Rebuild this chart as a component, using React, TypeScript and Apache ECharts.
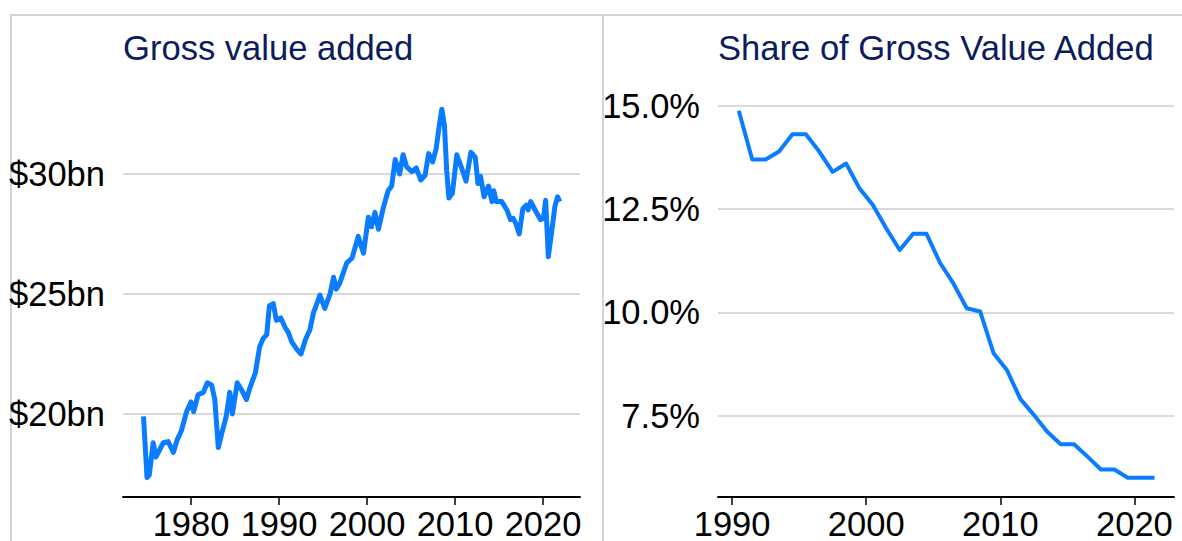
import React, { useEffect, useRef } from "react";
import * as echarts from "echarts";

// Left panel: Gross value added ($bn), quarterly readings (decimal year)
const gvaYears = [
  1974.6, 1975.0, 1975.25, 1975.7, 1976.0, 1976.85, 1977.4, 1978.0, 1978.4, 1978.9,
  1979.5, 1980.0, 1980.3, 1980.8, 1981.4, 1981.85, 1982.35, 1982.7, 1983.1, 1983.5,
  1984.0, 1984.4, 1984.7, 1985.25, 1985.75, 1986.3, 1986.7, 1987.3, 1987.8, 1988.2,
  1988.6, 1988.9, 1989.35, 1989.7, 1990.2, 1990.7, 1991.05, 1991.45, 1992.0, 1992.5,
  1993.0, 1993.5, 1993.9, 1994.65, 1995.2, 1995.8, 1996.2, 1996.5, 1996.9, 1997.7,
  1998.3, 1999.0, 1999.6, 2000.15, 2000.5, 2000.9, 2001.3, 2001.85, 2002.4, 2002.8,
  2003.2, 2003.7, 2004.1, 2004.5, 2005.1, 2005.6, 2006.1, 2006.6, 2007.0, 2007.45,
  2007.85, 2008.2, 2008.5, 2008.8, 2009.05, 2009.3, 2009.7, 2010.2, 2010.75, 2011.25,
  2011.8, 2012.3, 2012.6, 2012.9, 2013.3, 2013.8, 2014.2, 2014.4, 2014.7, 2015.3,
  2015.9, 2016.3, 2016.6, 2016.9, 2017.3, 2017.7, 2018.1, 2018.3, 2018.6, 2019.1,
  2019.7, 2020.05, 2020.3, 2020.6, 2021.0, 2021.35, 2021.65, 2021.9,
];
const gvaValues = [
  19.9, 17.35, 17.45, 18.8, 18.2, 18.8, 18.85, 18.4, 18.9, 19.3,
  20.1, 20.5, 20.1, 20.8, 20.9, 21.3, 21.2, 20.6, 18.6, 19.2,
  19.9, 20.9, 20.0, 21.3, 21.0, 20.6, 21.1, 21.7, 22.8, 23.15,
  23.3, 24.5, 24.6, 23.9, 24.0, 23.6, 23.4, 23.0, 22.7, 22.5,
  23.1, 23.5, 24.2, 24.95, 24.4, 25.0, 25.7, 25.2, 25.45, 26.3,
  26.5, 27.4, 26.7, 28.2, 27.8, 28.4, 27.7, 28.6, 29.3, 29.5,
  30.6, 30.0, 30.8, 30.3, 30.1, 30.25, 29.75, 29.95, 30.85, 30.5,
  31.05, 32.0, 32.7, 32.0, 30.15, 29.0, 29.2, 30.8, 30.25, 29.7,
  30.9, 30.7, 29.6, 29.9, 29.05, 29.5, 28.85, 29.3, 28.85, 28.85,
  28.5, 28.1, 28.15, 27.95, 27.5, 28.55, 28.7, 28.5, 28.85, 28.5,
  28.1, 28.15, 28.9, 26.55, 27.65, 28.65, 29.05, 28.85,
];

// Right panel: share of gross value added (%), annual readings (mid-year)
const shareYears = [
  1990.5, 1991.5, 1992.5, 1993.5, 1994.5, 1995.5, 1996.5, 1997.5, 1998.5, 1999.5,
  2000.5, 2001.5, 2002.5, 2003.5, 2004.5, 2005.5, 2006.5, 2007.5, 2008.5, 2009.5,
  2010.5, 2011.5, 2012.5, 2013.5, 2014.5, 2015.5, 2016.5, 2017.5, 2018.5, 2019.5,
  2020.5, 2021.5,
];
const shareValues = [
  14.88, 13.7, 13.7, 13.89, 14.31, 14.31, 13.89, 13.4, 13.6, 13.0,
  12.6, 12.03, 11.51, 11.9, 11.9, 11.2, 10.7, 10.1, 10.02, 9.01,
  8.6, 7.9, 7.52, 7.11, 6.81, 6.81, 6.51, 6.2, 6.2, 6.0,
  6.0, 6.0,
];

const gvaTicks = [20, 25, 30];
const gvaYearTicks = [1980, 1990, 2000, 2010, 2020];
const shareTicks = [7.5, 10, 12.5, 15];
const shareYearTicks = [1990, 2000, 2010, 2020];

const titles = ["Gross value added", "Share of Gross Value Added"];

const FONT = "'Liberation Sans', Arial, sans-serif";
const BLUE = "#0a7cff";
const NAVY = "#0c1c5c";
const GRID = "#cccccc";
const FRAME = "#d4d4d4";
const LABEL_SIZE = 34.5;
const TITLE_SIZE = 34.6;

export default function App() {
  const ref = useRef<HTMLDivElement>(null);

  useEffect(() => {
    document.body.style.margin = "0";
    const chart = echarts.init(ref.current!, null, { renderer: "svg" });

    const xAxisCommon = (ticks: number[]) => ({
      type: "value",
      axisLine: { show: true, lineStyle: { color: "#000", width: 2 } },
      axisTick: { show: true, length: 8, lineStyle: { color: "#000", width: 1.5 }, customValues: ticks },
      axisLabel: {
        customValues: ticks,
        color: "#000",
        fontSize: LABEL_SIZE,
        fontFamily: FONT,
        margin: 9,
        formatter: (v: number) => String(v),
      },
      splitLine: { show: false },
    });

    const option: any = {
      animation: false,
      backgroundColor: "#fff",
      title: [
        {
          text: titles[0],
          left: 123,
          top: 30,
          padding: 0,
          textStyle: { color: NAVY, fontSize: TITLE_SIZE, fontWeight: "normal", fontFamily: FONT },
        },
        {
          text: titles[1],
          left: 718,
          top: 30,
          padding: 0,
          textStyle: { color: NAVY, fontSize: TITLE_SIZE, fontWeight: "normal", fontFamily: FONT },
        },
      ],
      grid: [
        { left: 123, top: 90, width: 457, height: 407 },
        { left: 718, top: 90, width: 456, height: 407 },
      ],
      xAxis: [
        { ...xAxisCommon(gvaYearTicks), gridIndex: 0, min: 1972.27, max: 2024.2 },
        { ...xAxisCommon(shareYearTicks), gridIndex: 1, min: 1988.95, max: 2022.95 },
      ],
      yAxis: [
        {
          type: "value",
          gridIndex: 0,
          min: 16.54,
          max: 33.5,
          axisLine: { show: false },
          axisTick: { show: false, customValues: gvaTicks },
          axisLabel: {
            customValues: gvaTicks,
            color: "#000",
            fontSize: LABEL_SIZE,
            fontFamily: FONT,
            margin: 18,
            formatter: (v: number) => `$${v}bn`,
          },
          splitLine: { show: true, lineStyle: { color: GRID, width: 1.5 } },
        },
        {
          type: "value",
          gridIndex: 1,
          min: 5.533,
          max: 15.38,
          axisLine: { show: false },
          axisTick: { show: false, customValues: shareTicks },
          axisLabel: {
            customValues: shareTicks,
            color: "#000",
            fontSize: LABEL_SIZE,
            fontFamily: FONT,
            margin: 18,
            formatter: (v: number) => `${v.toFixed(1)}%`,
          },
          splitLine: { show: true, lineStyle: { color: GRID, width: 1.5 } },
        },
      ],
      series: [
        {
          type: "line",
          xAxisIndex: 0,
          yAxisIndex: 0,
          showSymbol: false,
          data: gvaYears.map((y, i) => [y, gvaValues[i]]),
          lineStyle: { color: BLUE, width: 5, join: "round" },
          itemStyle: { color: BLUE },
        },
        {
          type: "line",
          xAxisIndex: 1,
          yAxisIndex: 1,
          showSymbol: false,
          data: shareYears.map((y, i) => [y, shareValues[i]]),
          lineStyle: { color: BLUE, width: 4, join: "round" },
          itemStyle: { color: BLUE },
        },
      ],
      graphic: [
        { type: "line", shape: { x1: 10, y1: 15, x2: 1182, y2: 15 }, style: { stroke: FRAME, lineWidth: 2 }, silent: true },
        { type: "line", shape: { x1: 11, y1: 15, x2: 11, y2: 541 }, style: { stroke: FRAME, lineWidth: 2 }, silent: true },
        { type: "line", shape: { x1: 603, y1: 15, x2: 603, y2: 541 }, style: { stroke: FRAME, lineWidth: 2 }, silent: true },
      ],
    };

    chart.setOption(option);
    return () => chart.dispose();
  }, []);

  return <div ref={ref} style={{ width: 1182, height: 541 }} />;
}
